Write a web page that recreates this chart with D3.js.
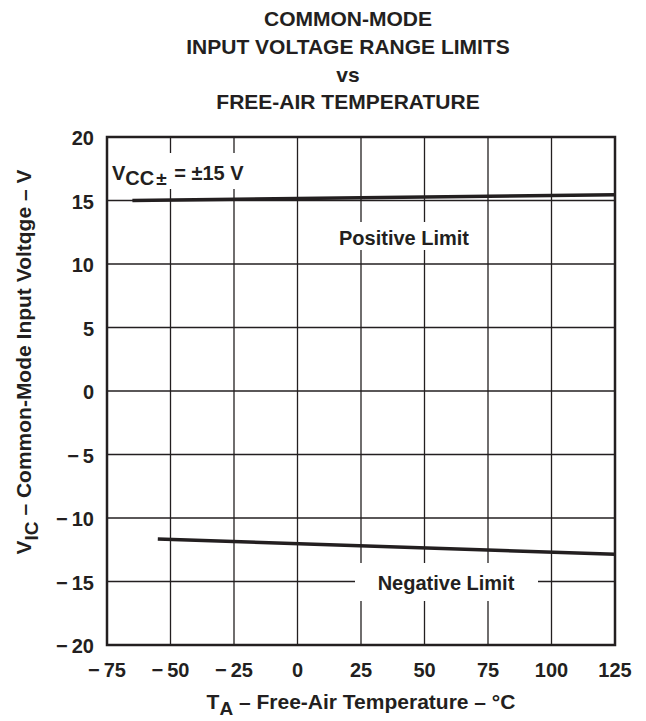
<!DOCTYPE html>
<html>
  <head>
    <script src="https://cdn.jsdelivr.net/npm/d3@7"></script>
    <style>
      body { margin: 0; background: #fff; }
      text { font-family: "Liberation Sans", Arial, sans-serif; font-weight: bold; fill: #231f20; }
    </style>
  </head>
  <body>
    <svg id="cmvr" width="646" height="721"></svg>
    <script>
    var titleLines = ["COMMON-MODE", "INPUT VOLTAGE RANGE LIMITS", "vs", "FREE-AIR TEMPERATURE"];
    var tempTicks = [-75, -50, -25, 0, 25, 50, 75, 100, 125];
    var voltTicks = [-20, -15, -10, -5, 0, 5, 10, 15, 20];
    var posTemp = [-65, 125], posVolt = [15.0, 15.45];
    var negTemp = [-55, 125], negVolt = [-11.65, -12.85];

    var svg = d3.select("#cmvr"),
        ink = "#231f20";

    var x = d3.scaleLinear().domain([-75, 125]).range([107, 615]),
        y = d3.scaleLinear().domain([-20, 20]).range([645, 137]);

    // minus sign with a small gap, as in the datasheet
    function fmt(v){ return v < 0 ? "\u2212\u2009" + Math.abs(v) : "" + v; }

    // title
    svg.append("g").selectAll("text").data(titleLines).enter().append("text")
      .attr("x", 348).attr("y", function(d, i){ return 26 + i * 27.8; })
      .attr("text-anchor", "middle").style("font-size", "21px")
      .text(function(d){ return d; });

    // grid
    var grid = svg.append("g").attr("stroke", ink).attr("stroke-width", 1.3);
    grid.selectAll(".vx").data(tempTicks.slice(1, -1)).enter().append("line")
      .attr("x1", x).attr("x2", x).attr("y1", y(20)).attr("y2", y(-20));
    grid.selectAll(".hy").data(voltTicks.slice(1, -1)).enter().append("line")
      .attr("y1", y).attr("y2", y).attr("x1", x(-75)).attr("x2", x(125));

    // white boxes behind labels
    var boxes = [[110, 153, 160, 36], [330, 222, 150, 28], [355, 563, 183, 38]];
    svg.append("g").selectAll("rect").data(boxes).enter().append("rect")
      .attr("x", function(d){ return d[0]; }).attr("y", function(d){ return d[1]; })
      .attr("width", function(d){ return d[2]; }).attr("height", function(d){ return d[3]; })
      .attr("fill", "#fff");

    // data lines
    var line = d3.line().x(function(d){ return x(d[0]); }).y(function(d){ return y(d[1]); });
    [[posTemp, posVolt], [negTemp, negVolt]].forEach(function(s){
      svg.append("path").datum(d3.zip(s[0], s[1]))
        .attr("d", line).attr("fill", "none").attr("stroke", ink).attr("stroke-width", 3.5);
    });

    // frame
    svg.append("rect").attr("x", x(-75)).attr("y", y(20))
      .attr("width", x(125) - x(-75)).attr("height", y(-20) - y(20))
      .attr("fill", "none").attr("stroke", ink).attr("stroke-width", 2.5);

    // tick labels
    svg.append("g").selectAll("text").data(voltTicks).enter().append("text")
      .attr("x", 94).attr("y", function(d){ return y(d) + 8; })
      .attr("text-anchor", "end").style("font-size", "20px").text(fmt);
    svg.append("g").selectAll("text").data(tempTicks).enter().append("text")
      .attr("x", x).attr("y", 677)
      .attr("text-anchor", "middle").style("font-size", "20px").text(fmt);

    // axis titles
    var xt = svg.append("text").attr("x", 361).attr("y", 709)
      .attr("text-anchor", "middle").style("font-size", "21px");
    xt.append("tspan").text("T");
    xt.append("tspan").attr("dy", 6).style("font-size", "19px").text("A");
    xt.append("tspan").attr("dy", -6).text(" \u2013 Free-Air Temperature \u2013 \u00b0C");

    var yt = svg.append("text").attr("transform", "translate(31,362) rotate(-90)")
      .attr("text-anchor", "middle").style("font-size", "21px");
    yt.append("tspan").text("V");
    yt.append("tspan").attr("dy", 7).style("font-size", "19px").text("IC");
    yt.append("tspan").attr("dy", -7).text(" \u2013 Common-Mode Input Voltqge \u2013 V");

    // annotations
    var vcc = svg.append("text").attr("x", 112).attr("y", 180).style("font-size", "20px");
    vcc.append("tspan").text("V");
    vcc.append("tspan").attr("dy", 5).style("font-size", "20px").text("CC");
    vcc.append("tspan").attr("dx", 2).style("font-size", "19px").text("\u00b1");
    vcc.append("tspan").attr("dy", -5).attr("dx", 2).text(" =  \u00b115 V");

    svg.append("text").attr("x", 404).attr("y", 245).attr("text-anchor", "middle")
      .style("font-size", "20px").text("Positive Limit");
    svg.append("text").attr("x", 446).attr("y", 590).attr("text-anchor", "middle")
      .style("font-size", "20px").text("Negative Limit");
    </script>
  </body>
</html>
